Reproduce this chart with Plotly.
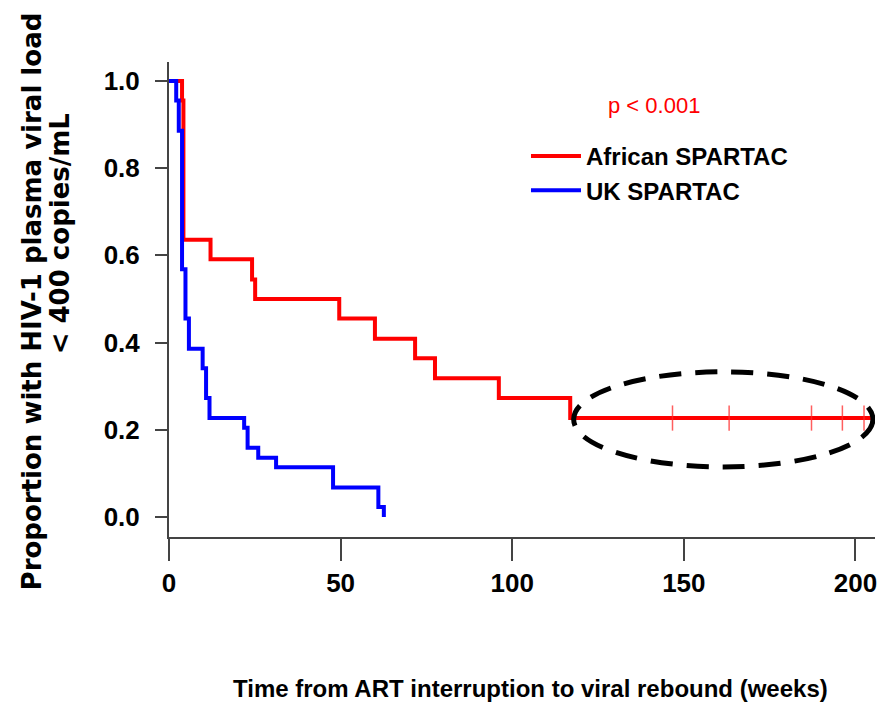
import plotly.graph_objects as go

# ---------------- data ----------------
african_weeks = [0, 3.8, 4.2, 12.1, 24.2, 25.1, 49.6, 60.0, 71.7, 77.5, 96.1, 116.9, 204.5]
african_prop = [1.0, 0.955, 0.636, 0.591, 0.545, 0.500, 0.455, 0.409, 0.364, 0.318, 0.273, 0.227, 0.227]

african_censor_weeks = [146.7, 163.2, 187.2, 196.2, 202.5]
african_censor_prop = [0.227, 0.227, 0.227, 0.227, 0.227]

uk_weeks = [0, 2.1, 2.85, 3.8, 4.8, 5.8, 9.8, 10.8, 11.8, 21.9, 22.9, 26.0, 31.2, 47.8, 61.0, 62.6]
uk_prop = [1.0, 0.955, 0.886, 0.568, 0.455, 0.386, 0.341, 0.273, 0.227, 0.205, 0.159, 0.136, 0.114, 0.068, 0.023, 0.0]

series_names = ["African SPARTAC", "UK SPARTAC"]
x_ticks = [0, 50, 100, 150, 200]
y_ticks = [0.0, 0.2, 0.4, 0.6, 0.8, 1.0]
p_value_text = "p < 0.001"
x_title = "Time from ART interruption to viral rebound (weeks)"
y_title_lines = ["Proportion with HIV-1 plasma viral load", "< 400 copies/mL"]

# highlighted region (dashed ellipse) in data units
highlight_x = (117.9, 205.1)
highlight_y = (0.115, 0.333)

SANS = "Liberation Sans, Arial, sans-serif"
WIDE = "DejaVu Sans, Verdana, sans-serif"
RED = "#FF0000"
BLUE = "#0000FF"
AXIS = "#444444"

fig = go.Figure()

fig.add_trace(go.Scatter(
    x=african_weeks, y=african_prop, mode="lines", line_shape="hv",
    line=dict(color=RED, width=4), name=series_names[0],
))
fig.add_trace(go.Scatter(
    x=african_censor_weeks, y=african_censor_prop, mode="markers",
    marker=dict(symbol="line-ns", size=18, line=dict(color="rgba(255,40,40,0.75)", width=1.5)),
    showlegend=False, hoverinfo="skip",
))
fig.add_trace(go.Scatter(
    x=uk_weeks, y=uk_prop, mode="lines", line_shape="hv",
    line=dict(color=BLUE, width=4), name=series_names[1],
))

fig.add_shape(
    type="circle", xref="x", yref="y",
    x0=highlight_x[0], x1=highlight_x[1], y0=highlight_y[0], y1=highlight_y[1],
    line=dict(color="black", width=5, dash="22px,14px"), layer="above",
)

L, R, T, B = 169, 5, 62, 167
W, H = 882, 704
pw = W - L - R
ph = H - T - B


def px_to_paper_x(px):
    return (px - L) / pw


def px_to_paper_y(py):
    return (H - B - py) / ph


fig.add_annotation(
    text=p_value_text, xref="paper", yref="paper",
    x=px_to_paper_x(655), y=px_to_paper_y(106), showarrow=False,
    xanchor="center", yanchor="middle",
    font=dict(family=SANS, size=22, color=RED),
)

fig.add_annotation(
    text=x_title, xref="paper", yref="paper",
    x=px_to_paper_x(532), y=px_to_paper_y(688), showarrow=False,
    xanchor="center", yanchor="middle",
    font=dict(family=SANS, size=24, color="black", weight="bold"),
)

fig.add_annotation(
    text=y_title_lines[0], xref="paper", yref="paper", textangle=-90,
    x=px_to_paper_x(32), y=px_to_paper_y(301), showarrow=False,
    xanchor="center", yanchor="middle",
    font=dict(family=WIDE, size=26, color="black", weight="bold"),
)
fig.add_annotation(
    text=y_title_lines[1], xref="paper", yref="paper", textangle=-90,
    x=px_to_paper_x(60), y=px_to_paper_y(234), showarrow=False,
    xanchor="center", yanchor="middle",
    font=dict(family=WIDE, size=26, color="black", weight="bold"),
)

fig.update_layout(
    width=W, height=H,
    margin=dict(l=L, r=R, t=T, b=B, pad=0),
    paper_bgcolor="white", plot_bgcolor="white",
    showlegend=True,
    legend=dict(
        x=px_to_paper_x(527), y=px_to_paper_y(134), xanchor="left", yanchor="top",
        bgcolor="rgba(0,0,0,0)", borderwidth=0, itemwidth=50,
        font=dict(family=SANS, size=24, color="black", weight="bold"),
    ),
    xaxis=dict(
        range=[0, 205.7], showgrid=False, zeroline=False,
        showline=True, linecolor=AXIS, linewidth=2,
        tickvals=x_ticks, ticks="outside", ticklen=22, tickwidth=2, tickcolor=AXIS,
        tickfont=dict(family=SANS, size=26, color="black", weight="bold"),
        ticklabelstandoff=0,
    ),
    yaxis=dict(
        range=[-0.0458, 1.0435], showgrid=False, zeroline=False,
        showline=True, linecolor=AXIS, linewidth=2,
        tickvals=y_ticks, tickformat=".1f", ticks="outside", ticklen=12, tickwidth=2, tickcolor=AXIS,
        tickfont=dict(family=SANS, size=26, color="black", weight="bold"),
        ticklabelstandoff=10,
    ),
)

fig.write_html("out.html")
